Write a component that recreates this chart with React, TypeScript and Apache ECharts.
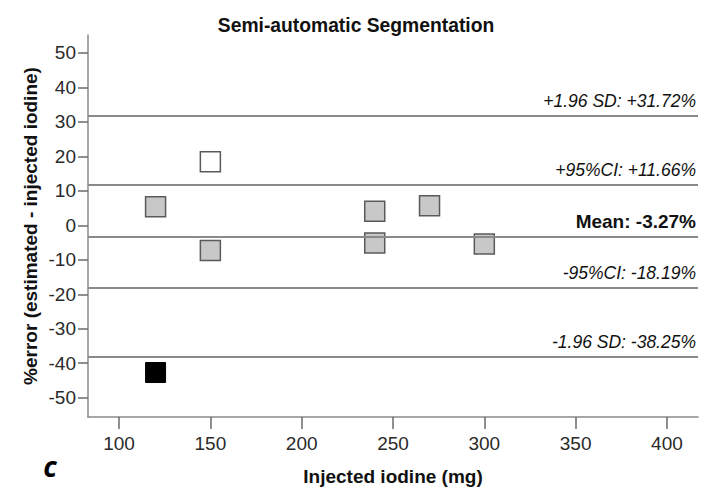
import React, { useEffect, useRef } from "react";
import * as echarts from "echarts";

const xTicks = [100, 150, 200, 250, 300, 350, 400];
const yTicks = [-50, -40, -30, -20, -10, 0, 10, 20, 30, 40, 50];

const grayPoints: [number, number][] = [
  [120, 5.4],
  [150, -7.3],
  [240, 4.1],
  [240, -5.1],
  [270, 5.7],
  [300, -5.4],
];
const whitePoints: [number, number][] = [[150, 18.4]];
const blackPoints: [number, number][] = [[120, -42.7]];

const refValues = [31.72, 11.66, -3.27, -18.19, -38.25];
const refLabels = [
  "+1.96 SD: +31.72%",
  "+95%CI: +11.66%",
  "Mean: -3.27%",
  "-95%CI: -18.19%",
  "-1.96 SD: -38.25%",
];
const refBold = [false, false, true, false, false];

const FONT = "Liberation Sans, Arial, sans-serif";

export default function App() {
  const ref = useRef<HTMLDivElement>(null);
  useEffect(() => {
    if (!ref.current) return;
    const chart = echarts.init(ref.current, null, { renderer: "svg" });
    const squareStyle = (fill: string) => ({
      color: fill,
      opacity: 1,
      borderColor: "#5a5a5a",
      borderWidth: 1.5,
    });
    chart.setOption({
      animation: false,
      backgroundColor: "#ffffff",
      grid: { left: 88, right: 13, top: 35, bottom: 85, containLabel: false },
      xAxis: {
        type: "value",
        min: 83,
        max: 417,
        splitLine: { show: false },
        axisLine: { show: true, onZero: false, lineStyle: { color: "#8a8a8a", width: 1.5 } },
        axisTick: {
          show: true,
          customValues: xTicks,
          length: 12,
          lineStyle: { color: "#6a6a6a", width: 1.5 },
        },
        axisLabel: {
          customValues: xTicks,
          margin: 17,
          fontFamily: FONT,
          fontSize: 19,
          color: "#2a2a2a",
        },
      },
      yAxis: {
        type: "value",
        min: -55.6,
        max: 55.2,
        splitLine: { show: false },
        axisLine: { show: true, onZero: false, lineStyle: { color: "#8a8a8a", width: 1.5 } },
        axisTick: {
          show: true,
          customValues: yTicks,
          length: 10,
          lineStyle: { color: "#6a6a6a", width: 1.5 },
        },
        axisLabel: {
          customValues: yTicks,
          margin: 12,
          fontFamily: FONT,
          fontSize: 19,
          color: "#2a2a2a",
        },
      },
      graphic: [
        {
          type: "text",
          x: 356,
          y: 25,
          style: {
            text: "Semi-automatic Segmentation",
            fontFamily: FONT,
            fontWeight: "bold",
            fontSize: 19.3,
            fill: "#111",
            textAlign: "center",
            align: "center",
            textVerticalAlign: "middle",
            verticalAlign: "middle",
          },
        },
        {
          type: "text",
          x: 393,
          y: 476,
          style: {
            text: "Injected iodine (mg)",
            fontFamily: FONT,
            fontWeight: "bold",
            fontSize: 19,
            fill: "#111",
            textAlign: "center",
            align: "center",
            textVerticalAlign: "middle",
            verticalAlign: "middle",
          },
        },
        {
          type: "text",
          x: 30,
          y: 226,
          rotation: Math.PI / 2,
          style: {
            text: "%error (estimated - injected iodine)",
            fontFamily: FONT,
            fontWeight: "bold",
            fontSize: 19,
            fill: "#111",
            textAlign: "center",
            align: "center",
            textVerticalAlign: "middle",
            verticalAlign: "middle",
          },
        },
        {
          type: "text",
          x: 50,
          y: 466,
          style: {
            text: "c",
            fontFamily: "Open Sans, sans-serif",
            fontWeight: "bold",
            fontStyle: "italic",
            fontSize: 28,
            fill: "#000",
            textAlign: "center",
            align: "center",
            textVerticalAlign: "middle",
            verticalAlign: "middle",
          },
        },
      ],
      series: [
        {
          type: "scatter",
          symbol: "rect",
          symbolSize: 20,
          data: [],
          silent: true,
          markLine: {
            silent: true,
            symbol: "none",
            animation: false,
            lineStyle: { color: "#8a8a8a", width: 2, type: "solid" },
            data: refValues.map((v, i) => ({
              yAxis: v,
              label: {
                show: true,
                position: "insideEndTop",
                distance: [2, 6],
                formatter: refLabels[i],
                fontFamily: FONT,
                fontSize: refBold[i] ? 19 : 17.5,
                fontWeight: refBold[i] ? "bold" : "normal",
                fontStyle: refBold[i] ? "normal" : "italic",
                color: "#111",
              },
            })),
          },
        },
        {
          type: "scatter",
          symbol: "rect",
          symbolSize: 20,
          data: grayPoints,
          itemStyle: squareStyle("#c8c8c8"),
        },
        {
          type: "scatter",
          symbol: "rect",
          symbolSize: 20,
          data: whitePoints,
          itemStyle: squareStyle("#ffffff"),
        },
        {
          type: "scatter",
          symbol: "rect",
          symbolSize: 20,
          data: blackPoints,
          itemStyle: { color: "#000000", opacity: 1, borderColor: "#000", borderWidth: 1 },
        },
      ],
    });
    return () => chart.dispose();
  }, []);
  return <div ref={ref} style={{ width: 711, height: 502, position: "absolute", left: 0, top: 0 }} />;
}
